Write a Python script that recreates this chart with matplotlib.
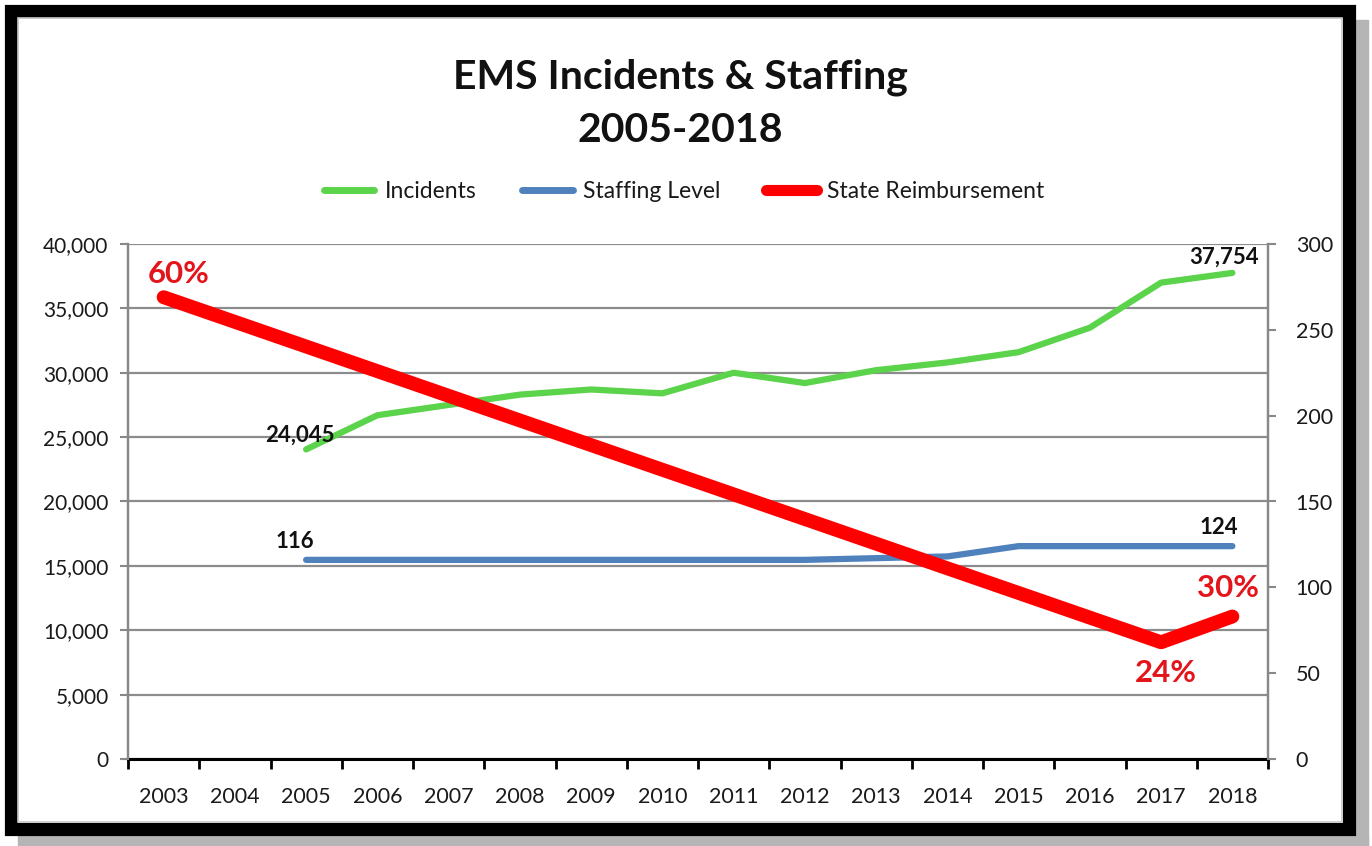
import matplotlib
matplotlib.use("Agg")
import matplotlib.pyplot as plt
from matplotlib.patches import Rectangle
from matplotlib.lines import Line2D
from matplotlib.ticker import FuncFormatter, FixedLocator

plt.rcParams['font.family'] = ['Lato', 'DejaVu Sans']

# ---------------- data ----------------
years = [str(y) for y in range(2003, 2019)]

incident_years = [str(y) for y in range(2005, 2019)]
incidents = [24045, 26700, 27500, 28300, 28700, 28400, 30000, 29200,
             30200, 30800, 31600, 33500, 37000, 37754]

staff_years = [str(y) for y in range(2005, 2019)]
staffing = [116, 116, 116, 116, 116, 116, 116, 116, 117, 118,
            124, 124, 124, 124]

# State reimbursement drawn as a trend line (plotted on right-axis scale)
reimb_years = ['2003', '2017', '2018']
reimb_level = [269, 68, 83]
reimb_labels = ['60%', '24%', '30%']

left_ticks = list(range(0, 40001, 5000))
right_ticks = list(range(0, 301, 50))

GREEN = '#5BD34A'
BLUE = '#4F81BD'
RED = '#FF0000'
RED_TXT = '#E3141B'

# ---------------- figure ----------------
fig = plt.figure(figsize=(13.72, 8.46), dpi=100)
W, H = 1372, 846

def fx(px):
    return px / W

def fy(py):
    return 1 - py / H

# shadow
fig.patches.append(Rectangle((fx(1356), fy(845)), fx(12), fy(20) - fy(845),
                             transform=fig.transFigure, color='#b5b5b5', zorder=0))
fig.patches.append(Rectangle((fx(18), fy(846)), fx(1350), fy(836) - fy(846),
                             transform=fig.transFigure, color='#b5b5b5', zorder=0))
# black frame
fig.patches.append(Rectangle((fx(11), fy(829)), fx(1338), fy(11) - fy(829),
                             transform=fig.transFigure, fill=False,
                             edgecolor='black', linewidth=9.5, zorder=1))
fig.patches.append(Rectangle((fx(18), fy(822)), fx(1324), fy(18) - fy(822),
                             transform=fig.transFigure, fill=False,
                             edgecolor='#c8c8c8', linewidth=1.2, zorder=1))

ax = fig.add_axes([fx(128), fy(759), fx(1268) - fx(128), fy(244) - fy(759)])
ax2 = ax.twinx()

idx = {y: i for i, y in enumerate(years)}

ax.plot([idx[y] for y in incident_years], incidents, color=GREEN, lw=4.5,
        solid_capstyle='round', solid_joinstyle='round', zorder=3)
ax2.plot([idx[y] for y in staff_years], staffing, color=BLUE, lw=4.5,
         solid_capstyle='round', solid_joinstyle='round', zorder=3)
ax2.plot([idx[y] for y in reimb_years], reimb_level, color=RED, lw=10,
         solid_capstyle='round', solid_joinstyle='round', zorder=4)

ax.set_xlim(-0.5, len(years) - 0.5)
ax.set_ylim(0, 40000)
ax2.set_ylim(0, 300)

ax.set_yticks(left_ticks)
ax.yaxis.set_major_formatter(FuncFormatter(lambda v, p: f"{int(v):,}"))
ax2.set_yticks(right_ticks)

ax.xaxis.set_major_locator(FixedLocator([i - 0.5 for i in range(len(years) + 1)]))
ax.xaxis.set_minor_locator(FixedLocator(list(range(len(years)))))
ax.set_xticklabels([], minor=False)
ax.set_xticklabels(years, minor=True)
ax.tick_params(axis='x', which='major', direction='out', length=7, width=2,
               color='black', labelbottom=False)
ax.tick_params(axis='x', which='minor', length=0, pad=20, labelsize=15.5,
               labelcolor='#1a1a1a')
ax.tick_params(axis='y', direction='out', length=6, width=1.5, color='#888888',
               labelsize=15, labelcolor='#1a1a1a', pad=8)
ax2.tick_params(axis='y', direction='out', length=6, width=1.5, color='#888888',
                labelsize=15.5, labelcolor='#1a1a1a', pad=14)

ax.grid(axis='y', color='#8c8c8c', lw=1.6, zorder=1)
ax.set_axisbelow(True)
for a in (ax, ax2):
    a.spines['top'].set_visible(False)
    a.spines['left'].set_color('#888888')
    a.spines['right'].set_color('#888888')
    a.spines['left'].set_linewidth(1.6)
    a.spines['right'].set_linewidth(1.6)
    a.spines['bottom'].set_color('black')
    a.spines['bottom'].set_linewidth(2.2)
ax2.spines['bottom'].set_visible(False)

# data labels
lab = dict(textcoords='offset pixels', ha='center', va='center',
           fontweight='bold', fontsize=16, color='#111111', zorder=6)
ax.annotate(f"{incidents[0]:,}", (idx[incident_years[0]], incidents[0]),
            xytext=(-6, 14), **lab)
ax.annotate(f"{incidents[-1]:,}", (idx[incident_years[-1]], incidents[-1]),
            xytext=(-8, 16), **lab)
ax2.annotate(f"{staffing[0]}", (idx[staff_years[0]], staffing[0]),
             xytext=(-11, 18), **lab)
ax2.annotate(f"{staffing[-1]}", (idx[staff_years[-1]], staffing[-1]),
             xytext=(-14, 19), **lab)

red_offsets = [(15, 23), (5, -31), (-4, 29)]
for y, v, t, off in zip(reimb_years, reimb_level, reimb_labels, red_offsets):
    ax2.annotate(t, (idx[y], v), xytext=off, textcoords='offset pixels',
                 ha='center', va='center', fontweight='bold', fontsize=22.5,
                 color=RED_TXT, zorder=6)

# title
fig.text(fx(680), fy(77), "EMS Incidents & Staffing", ha='center', va='center',
         fontsize=29.5, fontweight='bold', color='#111111')
fig.text(fx(680), fy(131), "2005-2018", ha='center', va='center',
         fontsize=29.5, fontweight='bold', color='#111111')

# legend
handles = [Line2D([], [], color=GREEN, lw=5, solid_capstyle='round'),
           Line2D([], [], color=BLUE, lw=5, solid_capstyle='round'),
           Line2D([], [], color=RED, lw=8, solid_capstyle='round')]
fig.legend(handles, ['Incidents', 'Staffing Level', 'State Reimbursement'],
           loc='center', bbox_to_anchor=(fx(684), fy(192)), ncol=3,
           frameon=False, fontsize=16.5, handlelength=2.2, handletextpad=0.45,
           columnspacing=2.0, labelcolor='#1a1a1a')

fig.savefig("out.png", dpi=100)
